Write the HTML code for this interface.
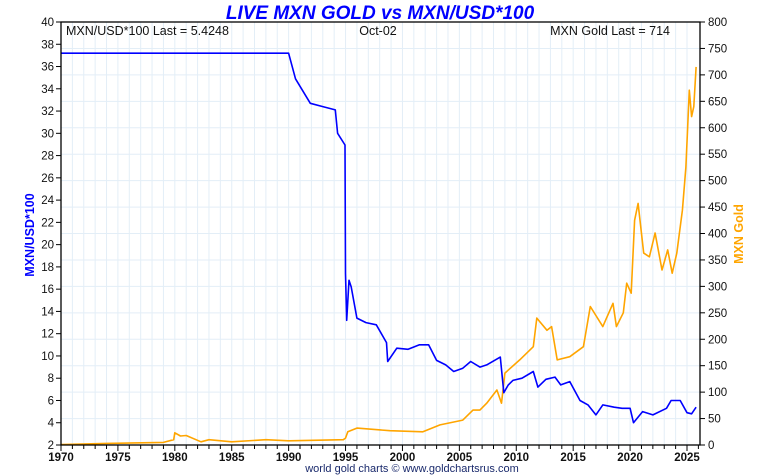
<!DOCTYPE html>
<html><head><meta charset="utf-8">
<style>
body{margin:0;background:#fff;}
svg{display:block;font-family:"Liberation Sans",sans-serif;}
</style></head>
<body>
<svg id="chart" width="760" height="475" viewBox="0 0 760 475" xmlns="http://www.w3.org/2000/svg">
<g id="grid"></g>
<g id="series"></g>
<g id="axes"></g>
<text x="380" y="19" text-anchor="middle" font-size="19" font-weight="bold" font-style="italic" fill="#0000ff">LIVE MXN GOLD vs MXN/USD*100</text>
<text x="66" y="35" font-size="12.5" fill="#111">MXN/USD*100 Last = 5.4248</text>
<text x="378" y="35" text-anchor="middle" font-size="12.5" fill="#111">Oct-02</text>
<text x="670" y="35" text-anchor="end" font-size="12.5" fill="#111">MXN Gold Last = 714</text>
<text transform="translate(34,235) rotate(-90)" text-anchor="middle" font-size="12.5" font-weight="bold" fill="#0000ff">MXN/USD*100</text>
<text transform="translate(743,234) rotate(-90)" text-anchor="middle" font-size="12.5" font-weight="bold" fill="#ffa500">MXN Gold</text>
<text x="412" y="472" text-anchor="middle" font-size="11" fill="#1a2a6c">world gold charts © www.goldchartsrus.com</text>
</svg>
<script>
const fxYears=[1970,1990,1990.6,1991.9,1993,1994.1,1994.3,1994.95,1995.0,1995.1,1995.3,1995.5,1996,1996.8,1997.7,1998.6,1998.7,1999.5,2000.5,2001.5,2002.3,2003,2003.8,2004.5,2005.3,2006,2006.8,2007.4,2008.6,2008.9,2009.3,2009.7,2010.5,2011.5,2011.9,2012.6,2013.4,2013.9,2014.7,2015.6,2016.3,2017,2017.6,2018.6,2019.3,2020,2020.3,2021.1,2022,2023.2,2023.6,2024.4,2025,2025.4,2025.8];
const fxValues=[37.2,37.2,34.9,32.7,32.4,32.1,30.0,28.95,17.4,13.2,16.8,16.2,13.4,13.0,12.8,11.2,9.5,10.7,10.6,11.0,11.0,9.6,9.2,8.6,8.9,9.5,9.0,9.2,9.9,6.7,7.4,7.8,8.0,8.6,7.2,7.9,8.1,7.4,7.7,6.0,5.6,4.7,5.6,5.4,5.3,5.3,4.0,5.0,4.7,5.3,6.0,6.0,4.9,4.8,5.4];
const goldYears=[1970,1974,1979,1979.9,1980,1980.5,1981,1982.3,1983,1985,1988,1990,1994.8,1995,1995.2,1996,1998.9,2001.8,2003.3,2005.3,2006.2,2006.8,2007.4,2008.3,2008.7,2009,2010.3,2011.5,2011.8,2012.7,2013.1,2013.6,2014.7,2015.9,2016.5,2017.6,2018.5,2018.8,2019.4,2019.7,2020.1,2020.4,2020.7,2021.2,2021.7,2022.2,2022.8,2023.3,2023.7,2024.1,2024.6,2024.9,2025.2,2025.4,2025.6,2025.8];
const goldValues=[1,3,5,10,23,17,18,6,10,6,10,8,10,13,25,32,27,25,38,47,66,66,79,104,79,136,161,186,240,217,224,161,167,186,262,224,268,224,250,306,287,425,457,363,356,401,331,369,325,363,444,526,671,621,640,715];
const leftTicks=[2,4,6,8,10,12,14,16,18,20,22,24,26,28,30,32,34,36,38,40];
const rightTicks=[0,50,100,150,200,250,300,350,400,450,500,550,600,650,700,750,800];
const xTicks=[1970,1975,1980,1985,1990,1995,2000,2005,2010,2015,2020,2025];

const L=61,R=700,T=22,B=445;
const xs=y=>L+(y-1970)*(687-61)/55;
const yl=v=>B-(v-2)/38*(B-T);
const yr=v=>B-v/800*(B-T);
const NS="http://www.w3.org/2000/svg";
function mk(tag,attrs,parent){const e=document.createElementNS(NS,tag);for(const k in attrs)e.setAttribute(k,attrs[k]);parent.appendChild(e);return e;}
const grid=document.getElementById('grid'),axes=document.getElementById('axes'),series=document.getElementById('series');

for(let y=1971;y<=2025;y++){
  const l=mk('line',{x1:xs(y),x2:xs(y),y1:T,y2:B,stroke:'#e3eef7','stroke-width':1},grid);
  
  
}
rightTicks.forEach(v=>{if(v===0||v===800)return;
  const l=mk('line',{x1:L,x2:R,y1:yr(v),y2:yr(v),stroke:'#e3eef7','stroke-width':1},grid);
  
  
});

function path(xa,ya,fx,fy,color,name){
  const d=xa.map((x,i)=>(i?'L':'M')+fx(x).toFixed(1)+','+fy(ya[i]).toFixed(1)).join('');
  const p=mk('path',{d:d,fill:'none',stroke:color,'stroke-width':1.6,'stroke-linejoin':'round'},series);
  
  
}
path(goldYears,goldValues,xs,yr,'#ffa500','gold-line');
path(fxYears,fxValues,xs,yl,'#0000ff','mxn-usd-line');

const frame=mk('rect',{x:L,y:T,width:R-L,height:B-T,fill:'none',stroke:'#000','stroke-width':1.3},axes);



leftTicks.forEach(v=>{
  const t=mk('line',{x1:L-5,x2:L,y1:yl(v),y2:yl(v),stroke:'#000'},axes);
  
  
  const s=mk('text',{x:L-7,y:yl(v)+4,'text-anchor':'end','font-size':11.5,fill:'#111'},axes);
  s.textContent=v;
  
  
});
rightTicks.forEach(v=>{
  const t=mk('line',{x1:R,x2:R+5,y1:yr(v),y2:yr(v),stroke:'#000'},axes);
  
  
  const s=mk('text',{x:R+8,y:yr(v)+4,'font-size':11.5,fill:'#111'},axes);
  s.textContent=v;
  
  
});
for(let y=1970;y<=2026;y++){
  const major=xTicks.includes(y);
  const t=mk('line',{x1:xs(y),x2:xs(y),y1:B,y2:B+(major?6:4),stroke:'#000'},axes);
  
  
}
xTicks.forEach(y=>{
  const s=mk('text',{x:xs(y),y:B+16,'text-anchor':'middle','font-size':11.5,'font-weight':'bold',fill:'#111'},axes);
  s.textContent=y;
  
  
});
</script>
</body></html>
